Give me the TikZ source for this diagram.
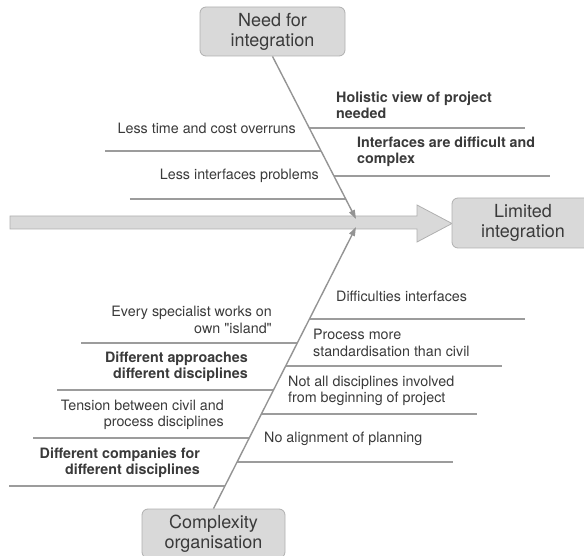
\documentclass[tikz,border=0pt]{standalone}
\usepackage{fontspec}
\usetikzlibrary{arrows.meta}
\newfontfamily\lbl{TeX Gyre Heros}
\definecolor{boxfill}{HTML}{D9D9D9}
\definecolor{boxline}{HTML}{B0B0B0}
\definecolor{bone}{HTML}{9C9C9C}
\definecolor{ink}{HTML}{3A3A3A}
\tikzset{
  causebox/.style={draw=boxline, fill=boxfill, rounded corners=6pt, line width=0.8pt,
    text=ink, align=center, inner sep=0pt,
    font=\lbl\fontsize{18}{20}\selectfont},
  cause/.style={text=ink, inner sep=0pt, font=\lbl\fontsize{14.3}{16.3}\selectfont},
  strong/.style={cause, font=\lbl\bfseries\fontsize{14.3}{16.3}\selectfont},
  rib/.style={draw=bone, line width=1.8pt},
  spinebone/.style={draw=bone!95!black, line width=1.4pt,
    -{Triangle[length=9pt,width=6pt]}},
}
\begin{document}
\begin{tikzpicture}[x=1pt,y=-1pt]
\useasboundingbox (0,0) rectangle (584,556);
\clip (0,0) rectangle (584,556);

% main spine arrow
\path[draw=boxline, fill=boxfill, line width=0.8pt]
  (10,216) -- (417,216) -- (417,205) -- (452,223.5) -- (417,242) -- (417,229) -- (10,229) -- cycle;

% category boxes
\node[causebox, minimum width=145pt, minimum height=49pt] (need) at (272.5,31.5) {Need for\\integration};
\node[causebox, minimum width=142pt, minimum height=50pt] (limited) at (523,223) {Limited\\integration};
\node[causebox, minimum width=143pt, minimum height=49pt] (complex) at (213.5,533.5) {Complexity\\organisation};

% where the main bones meet the spine
\coordinate (tipT) at (356,219);
\coordinate (tipB) at (356,227);

% rib end points
\coordinate (r1a) at (309.4,128);  \coordinate (r1b) at (525,128);
\coordinate (l1a) at (105,151);    \coordinate (l1b) at (321.2,151);
\coordinate (r2a) at (334,176);    \coordinate (r2b) at (550,176);
\coordinate (l2a) at (129.8,199);  \coordinate (l2b) at (345.8,199);

\coordinate (r3a) at (309.2,319);  \coordinate (r3b) at (525,319);
\coordinate (l3a) at (81,343);     \coordinate (l3b) at (297.1,343);
\coordinate (r4a) at (285.5,366);  \coordinate (r4b) at (501.5,366);
\coordinate (l4a) at (57.4,390);   \coordinate (l4b) at (273.4,390);
\coordinate (r5a) at (261.3,414);  \coordinate (r5b) at (477.3,414);
\coordinate (l5a) at (33.2,438);   \coordinate (l5b) at (249.2,438);
\coordinate (r6a) at (237.2,462);  \coordinate (r6b) at (453.2,462);
\coordinate (l6a) at (9.1,486);    \coordinate (l6b) at (225.1,486);

% ribs
\foreach \r in {r1,l1,r2,l2,r3,l3,r4,l4,r5,l5,r6,l6}
  \draw[rib] (\r a) -- (\r b);

% main bones
\draw[spinebone] (need.south) -- (tipT);
\draw[spinebone] (complex.north) -- (tipB);

% upper causes
\node[strong, anchor=west, align=left] (t1) at (336,105) {Holistic view of project\\needed};
\node[cause, anchor=east, align=right] (t2) at (296,128) {Less time and cost overruns};
\node[strong, anchor=west, align=left] (t3) at (357,152) {Interfaces are difficult and\\complex};
\node[cause, anchor=east, align=right] (t4) at (319,176) {Less interfaces problems};

% lower causes
\node[cause, anchor=west, align=left] (b1) at (336,296) {Difficulties interfaces};
\node[cause, anchor=east, align=right] (b2) at (272,320) {Every specialist works on\\own "island"};
\node[cause, anchor=west, align=left] (b3) at (313,343) {Process more\\standardisation than civil};
\node[strong, anchor=east, align=right] (b4) at (248,367) {Different approaches\\different disciplines};
\node[cause, anchor=west, align=left] (b5) at (288,391) {Not all disciplines involved\\from beginning of project};
\node[cause, anchor=east, align=right] (b6) at (224,415) {Tension between civil and\\process disciplines};
\node[cause, anchor=west, align=left] (b7) at (264,439) {No alignment of planning};
\node[strong, anchor=east, align=right] (b8) at (200,463) {Different companies for\\different disciplines};
\end{tikzpicture}
\end{document}
